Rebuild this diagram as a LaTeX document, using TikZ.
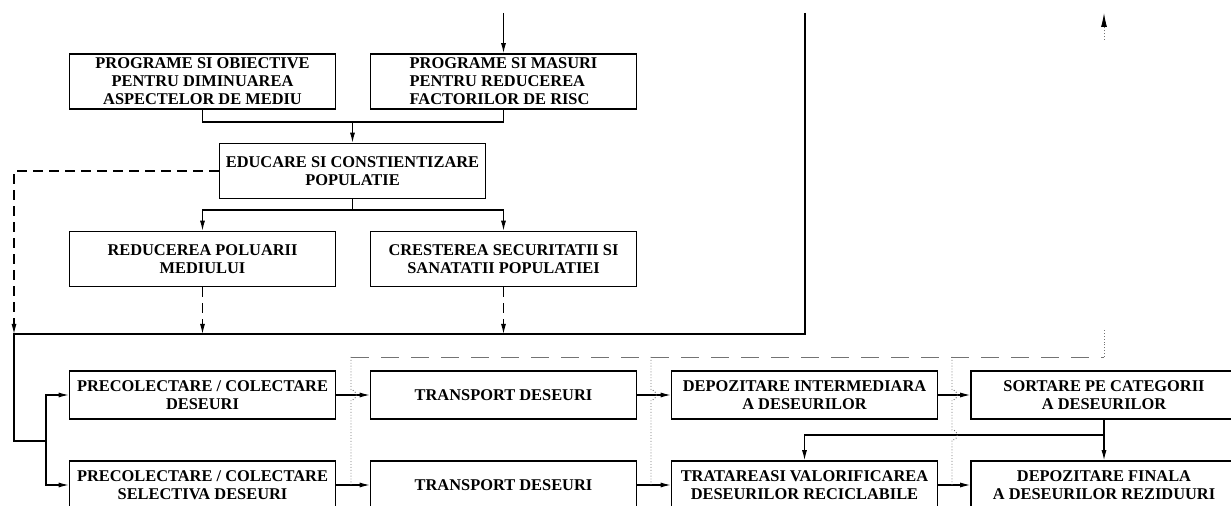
\documentclass[tikz,border=0pt]{standalone}
\usepackage{fontspec}
\setmainfont{Liberation Serif}
\usetikzlibrary{arrows.meta,calc}

\begin{document}
\begin{tikzpicture}[x=0.5pt,y=-0.5pt,
    box/.style={draw,line width=0.8pt,minimum width=133pt,minimum height=27.5pt,
      inner sep=1pt,align=center,font=\fontsize{8.2}{9}\selectfont\bfseries},
    low/.style={box,minimum height=24pt},
    link/.style={line width=0.55pt},
    arr/.style={link,-{Latex[length=5pt,width=2.5pt]}},
    dashline/.style={link,dash pattern=on 5pt off 3pt},
    dasharr/.style={dashline,-{Latex[length=5pt,width=2.5pt]}},
    feed/.style={line width=0.45pt,black!55,dash pattern=on 9pt off 6pt},
    feeddot/.style={line width=0.45pt,black!55,densely dotted}]
    \useasboundingbox (0,0) rectangle (1231,506);
    \clip (0,0) rectangle (1231,506);
    \def\ca{202.5}\def\cb{503.5}\def\cc{804.5}\def\cd{1104}
    \def\rowa{395}\def\rowb{485}
    \def\boxes{
      \node[box] (prog1) at (\ca,81.5) {PROGRAME SI OBIECTIVE\\PENTRU DIMINUAREA\\ASPECTELOR DE MEDIU};
      \node[box,align=left] (prog2) at (\cb,81.5) {PROGRAME SI MASURI\\PENTRU REDUCEREA\\FACTORILOR DE RISC};
      \node[box] (educ) at (352.5,171) {EDUCARE SI CONSTIENTIZARE\\POPULATIE};
      \node[box] (poll) at (\ca,259) {REDUCEREA POLUARII\\MEDIULUI};
      \node[box] (safe) at (\cb,259) {CRESTEREA SECURITATII SI\\SANATATII POPULATIEI};
      \node[low] (coll1) at (\ca,\rowa) {PRECOLECTARE / COLECTARE\\DESEURI};
      \node[low] (trans1) at (\cb,\rowa) {TRANSPORT DESEURI};
      \node[low] (store1) at (\cc,\rowa) {DEPOZITARE INTERMEDIARA\\A DESEURILOR};
      \node[low] (sort) at (\cd,\rowa) {SORTARE PE CATEGORII\\A DESEURILOR};
      \node[low] (coll2) at (\ca,\rowb) {PRECOLECTARE / COLECTARE\\SELECTIVA DESEURI};
      \node[low] (trans2) at (\cb,\rowb) {TRANSPORT DESEURI};
      \node[low] (treat) at (\cc,\rowb) {TRATAREASI VALORIFICAREA\\DESEURILOR RECICLABILE};
      \node[low] (final) at (\cd,\rowb) {DEPOZITARE FINALA\\A DESEURILOR REZIDUURI};
    }
    \def\points{
      \coordinate (top2) at (\cb,13);
      \coordinate (topbus) at (805,13);
      \coordinate (j1) at (352.5,122);
      \coordinate (j2) at (352.5,210);
      \coordinate (busL) at (14,334);
      \coordinate (busJ) at (46,441);
      \coordinate (sj) at (\cd,435);
      \coordinate (fbR) at (\cd,357);
      \coordinate (fbUp) at (\cd,330);
      \coordinate (fbTop) at (\cd,13);
      \coordinate (fbTopS) at (\cd,40);
      \coordinate (fb1) at (351,357);
      \coordinate (fb2) at (651,357);
      \coordinate (fb3) at (952,357);
      \foreach \i in {1,2,3}
        \coordinate (h\i) at (fb\i |- coll1.east);
      \coordinate (h4) at (fb3 |- sj);
    }
    \def\showLines{
      % Draw upper part
      \draw[arr] (top2) -- (prog2.north);
      \draw[link] (prog1.south) |- (j1) -| (prog2.south);
      \draw[arr] (j1) -- (educ.north);
      \draw[dasharr] (educ.west) -| (busL);
      \draw[link] (educ.south) -- (j2);
      \draw[arr] (j2) -| (poll.north);
      \draw[arr] (j2) -| (safe.north);
      \draw[dasharr] (poll.south) -- (poll.south |- busL);
      \draw[dasharr] (safe.south) -- (safe.south |- busL);
      % Draw main bus
      \draw[link] (topbus) |- (busL) |- (busJ);
      \draw[arr] (busJ) |- (coll1.west);
      \draw[arr] (busJ) |- (coll2.west);
      % Draw rows
      \foreach \a/\b in {coll1/trans1,trans1/store1,store1/sort,coll2/trans2,trans2/treat,treat/final}
        \draw[arr] (\a.east) -- (\b.west);
      \draw[arr] (sort.south) -- (final.north);
      \draw[arr] (sj) -| (treat.north);
    }
    \def\showFeedback{
      \draw[feed] (fb1) -- (fbR);
      \draw[feeddot] (fbR) -- (fbUp);
      \draw[feeddot,-{Latex[length=7pt,width=3pt,color=black]}] (fbTopS) -- (fbTop);
      \foreach \i in {1,2} {
        \draw[feeddot] (fb\i) -- ($(h\i)+(0,-5)$) .. controls +(7,0) and +(7,0) .. ($(h\i)+(0,5)$)
          -- (fb\i |- coll2.east);
      }
      \draw[feeddot] (fb3) -- ($(h3)+(0,-5)$) .. controls +(7,0) and +(7,0) .. ($(h3)+(0,5)$)
        -- ($(h4)+(0,-5)$) .. controls +(7,0) and +(7,0) .. ($(h4)+(0,5)$)
        -- (fb3 |- coll2.east);
    }
    \boxes
    \points
    \showLines
    \showFeedback
  \end{tikzpicture}
\end{document}
